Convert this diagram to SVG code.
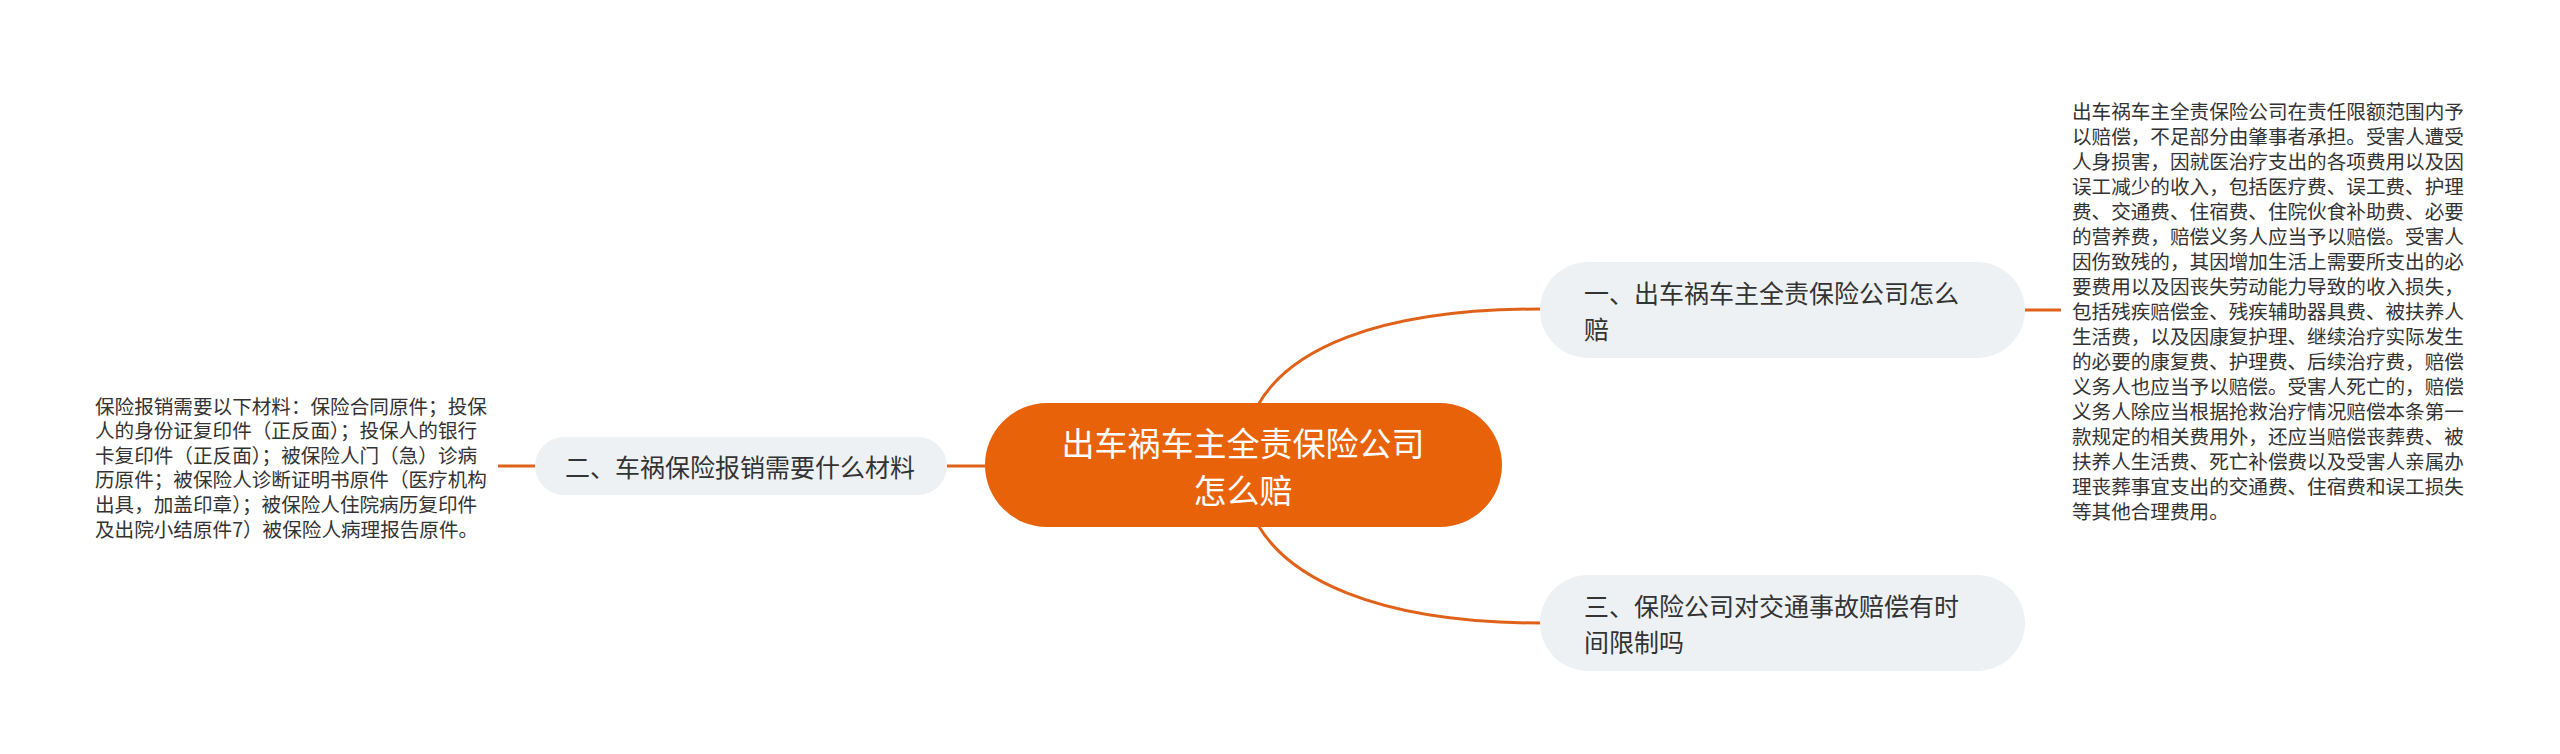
<svg xmlns="http://www.w3.org/2000/svg" width="2560" height="754" viewBox="0 0 2560 754">
<style>
text{font-family:"Noto Sans CJK SC","Noto Sans",sans-serif;dominant-baseline:central}
.conn{fill:none;stroke:#E0621A;stroke-width:3}
.sub{fill:#EEF1F4}
.subt{font-size:25px;fill:#333333}
.det{font-size:19.6px;fill:#333333}
.root{fill:#E8620A}
.roott{font-size:33px;fill:#FFFFFF;text-anchor:middle}
</style>
<rect width="2560" height="754" fill="#FFFFFF"/>
<g id="connectors">
<path class="conn" d="M1258 405 C1288 352 1372 309 1540 309"/>
<path class="conn" d="M1258 525 C1288 576 1372 623 1540 623"/>
<path class="conn" d="M985 466 L947 466"/>
<path class="conn" d="M535 466 L498 466"/>
<path class="conn" d="M2025 310 L2061 310"/>
</g>
<g id="root">
<rect class="root" x="985" y="403" width="517" height="124" rx="62"/>
<text class="roott" x="1243" y="442">出车祸车主全责保险公司</text>
<text class="roott" x="1243" y="489">怎么赔</text>
</g>
<g id="node1">
<rect class="sub" x="1540" y="262" width="485" height="96" rx="48"/>
<text class="subt" x="1584" y="292">一、出车祸车主全责保险公司怎么</text>
<text class="subt" x="1584" y="328">赔</text>
</g>
<g id="node2">
<rect class="sub" x="535" y="437" width="412" height="58" rx="29"/>
<text class="subt" x="565" y="466">二、车祸保险报销需要什么材料</text>
</g>
<g id="node3">
<rect class="sub" x="1540" y="575" width="485" height="96" rx="48"/>
<text class="subt" x="1584" y="605">三、保险公司对交通事故赔偿有时</text>
<text class="subt" x="1584" y="641">间限制吗</text>
</g>
<g id="detail1">
<text class="det" x="2072" y="110">出车祸车主全责保险公司在责任限额范围内予</text>
<text class="det" x="2072" y="135">以赔偿，不足部分由肇事者承担。受害人遭受</text>
<text class="det" x="2072" y="160">人身损害，因就医治疗支出的各项费用以及因</text>
<text class="det" x="2072" y="185">误工减少的收入，包括医疗费、误工费、护理</text>
<text class="det" x="2072" y="210">费、交通费、住宿费、住院伙食补助费、必要</text>
<text class="det" x="2072" y="235">的营养费，赔偿义务人应当予以赔偿。受害人</text>
<text class="det" x="2072" y="260">因伤致残的，其因增加生活上需要所支出的必</text>
<text class="det" x="2072" y="285">要费用以及因丧失劳动能力导致的收入损失，</text>
<text class="det" x="2072" y="310">包括残疾赔偿金、残疾辅助器具费、被扶养人</text>
<text class="det" x="2072" y="335">生活费，以及因康复护理、继续治疗实际发生</text>
<text class="det" x="2072" y="360">的必要的康复费、护理费、后续治疗费，赔偿</text>
<text class="det" x="2072" y="385">义务人也应当予以赔偿。受害人死亡的，赔偿</text>
<text class="det" x="2072" y="410">义务人除应当根据抢救治疗情况赔偿本条第一</text>
<text class="det" x="2072" y="435">款规定的相关费用外，还应当赔偿丧葬费、被</text>
<text class="det" x="2072" y="460">扶养人生活费、死亡补偿费以及受害人亲属办</text>
<text class="det" x="2072" y="485">理丧葬事宜支出的交通费、住宿费和误工损失</text>
<text class="det" x="2072" y="510">等其他合理费用。</text>
</g>
<g id="detail2">
<text class="det" x="95" y="405">保险报销需要以下材料：保险合同原件；投保</text>
<text class="det" x="95" y="429.6">人的身份证复印件（正反面）；投保人的银行</text>
<text class="det" x="95" y="454.2">卡复印件（正反面）；被保险人门（急）诊病</text>
<text class="det" x="95" y="478.8">历原件；被保险人诊断证明书原件（医疗机构</text>
<text class="det" x="95" y="503.4">出具，加盖印章）；被保险人住院病历复印件</text>
<text class="det" x="95" y="528">及出院小结原件7）被保险人病理报告原件。</text>
</g>
</svg>
